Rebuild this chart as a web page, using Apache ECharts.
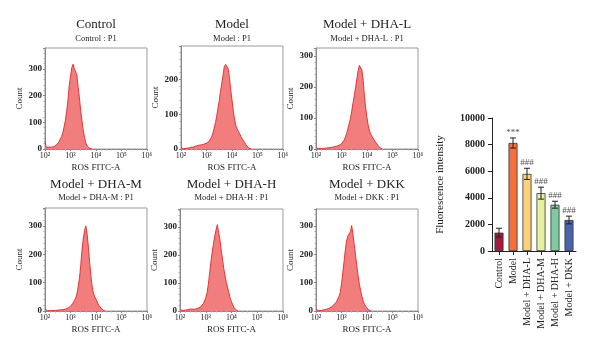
<!DOCTYPE html>
<html><head><meta charset="utf-8">
<script src="https://cdn.jsdelivr.net/npm/echarts@6/dist/echarts.min.js"></script>
<style>html,body{margin:0;padding:0;background:#fff}#c{width:600px;height:356px}</style>
</head><body><div id="c"></div>
<script>
// Histogram bins: log10(ROS FITC-A) from 10^2, step 0.05 decade
var binStart = 2.0, binStep = 0.05;
var panelTitles = ['Control', 'Model', 'Model + DHA-L', 'Model + DHA-M', 'Model + DHA-H', 'Model + DKK'];
var panelSubtitles = ['Control : P1', 'Model : P1', 'Model + DHA-L : P1', 'Model + DHA-M : P1', 'Model + DHA-H : P1', 'Model + DKK : P1'];
var xTickLabels = ['10\u00b2', '10\u00b3', '10\u2074', '10\u2075', '10\u2076'];
var yMaxes = [379, 297, 326, 363, 364, 360];

var countsControl = [30,6,5,7,8,7,10,9,12,15,20,27,38,46,62,84,108,142,183,238,272,305,318,302,300,278,232,192,143,106,70,44,23,12,6,3,1,0];
var countsModel = [4,1,1,2,2,3,3,4,5,5,6,7,9,10,11,10,12,13,14,15,17,20,22,27,35,46,60,76,95,118,140,166,190,214,238,244,248,231,206,170,141,110,86,68,58,51,44,36,30,24,18,12,7,3,1,0];
var countsDHAL = [4,1,1,1,2,2,2,3,3,3,4,4,5,6,7,8,9,10,12,14,17,22,28,38,50,65,82,98,122,148,172,198,226,252,270,276,255,221,170,132,100,76,58,48,40,34,27,20,14,9,4,2,0];
var countsDHAM = [6,1,1,1,1,2,2,2,2,3,3,3,4,4,5,6,7,8,10,13,17,22,28,36,45,60,85,115,160,214,255,282,300,272,228,172,125,85,62,50,42,32,22,15,9,5,2,0];
var countsDHAH = [5,1,2,2,3,4,5,6,7,7,6,6,7,8,10,12,15,20,26,35,48,65,95,135,175,210,240,268,290,308,280,255,218,186,152,125,102,82,65,45,33,22,12,6,2,0];
var countsDKK = [6,1,1,2,2,3,4,5,6,7,9,11,14,18,22,27,32,42,52,65,95,135,175,215,248,265,272,280,302,270,235,198,160,125,95,72,52,35,24,16,10,5,2,0];
var histCounts = [countsControl, countsModel, countsDHAL, countsDHAM, countsDHAH, countsDKK];

// Bar chart
var barCategories = ['Control', 'Model', 'Model + DHA-L', 'Model + DHA-M', 'Model + DHA-H', 'Model + DKK'];
var barValues = [1380, 8120, 5800, 4350, 3480, 2330];
var barErrors = [330, 380, 420, 450, 260, 290];
var barMarks = ['', '***', '###', '###', '###', '###'];
var barColors = ['#a51a3f', '#f4703f', '#fdd07c', '#e7efa1', '#7ecba2', '#4a63ad'];

var SERIF = '"Liberation Serif", "DejaVu Serif", serif';
var panelBoxes = [
  {left: 45, top: 48, width: 102, height: 101},
  {left: 181, top: 46, width: 102, height: 103},
  {left: 316, top: 48, width: 102, height: 101},
  {left: 45, top: 208, width: 102, height: 103},
  {left: 180, top: 209, width: 103, height: 102},
  {left: 316, top: 209, width: 102, height: 102}
];
var titleRows = [{t: 25, s: 39}, {t: 25, s: 39}, {t: 25, s: 39}, {t: 185, s: 198}, {t: 185, s: 198}, {t: 185, s: 198}];

var grids = [], xAxes = [], yAxes = [], series = [], graphics = [];
panelBoxes.forEach(function (b, i) {
  grids.push({left: b.left, top: b.top, width: b.width, height: b.height, show: true, borderColor: '#9a9a9a', borderWidth: 1, backgroundColor: '#fff'});
  xAxes.push({
    type: 'value', gridIndex: i, min: 2, max: 6, interval: 1,
    name: 'ROS FITC-A', nameLocation: 'middle', nameGap: 14,
    nameTextStyle: {fontFamily: SERIF, fontSize: 9, color: '#222'},
    axisLine: {show: true, lineStyle: {color: '#888'}},
    axisTick: {show: true, length: 2, lineStyle: {color: '#888'}},
    minorTick: {show: true, splitNumber: 5, length: 1.5, lineStyle: {color: '#aaa'}},
    splitLine: {show: false},
    axisLabel: {fontFamily: SERIF, fontSize: 8, color: '#222', margin: 3,
      formatter: function (v) { return xTickLabels[Math.round(v) - 2] || ''; }}
  });
  yAxes.push({
    type: 'value', gridIndex: i, min: 0, max: yMaxes[i], interval: 100,
    name: 'Count', nameLocation: 'middle', nameGap: 18, nameRotate: 90,
    nameTextStyle: {fontFamily: SERIF, fontSize: 9, color: '#222'},
    axisLine: {show: true, lineStyle: {color: '#888'}},
    axisTick: {show: true, length: 2, lineStyle: {color: '#888'}},
    minorTick: {show: true, splitNumber: 5, length: 1.5, lineStyle: {color: '#aaa'}},
    splitLine: {show: false},
    axisLabel: {fontFamily: SERIF, fontSize: 9, color: '#222', margin: 3, fontWeight: 'bold',
      formatter: function (v) { return v % 100 === 0 ? String(v) : ''; }}
  });
  series.push({
    type: 'line', xAxisIndex: i, yAxisIndex: i, showSymbol: false, silent: true,
    data: histCounts[i].map(function (c, k) { return [binStart + k * binStep, c]; }),
    lineStyle: {color: '#e3262b', width: 0.9},
    areaStyle: {color: '#f27d7d', opacity: 1},
    z: 3
  });
  var cx = b.left + b.width / 2;
  graphics.push({type: 'text', x: cx, y: titleRows[i].t, style: {text: panelTitles[i], font: '13px ' + SERIF, fill: '#222', align: 'center', verticalAlign: 'middle'}});
  graphics.push({type: 'text', x: cx, y: titleRows[i].s, style: {text: panelSubtitles[i], font: '8.5px ' + SERIF, fill: '#222', align: 'center', verticalAlign: 'middle'}});
});

// Bar chart grid (index 6)
grids.push({left: 492, top: 118, width: 84, height: 133});
xAxes.push({
  type: 'category', gridIndex: 6, data: barCategories,
  axisLine: {show: true, lineStyle: {color: '#222', width: 1}},
  axisTick: {show: true, alignWithLabel: true, length: 4, lineStyle: {color: '#222'}},
  axisLabel: {rotate: 90, fontFamily: SERIF, fontSize: 10, color: '#222', margin: 7, interval: 0}
});
yAxes.push({
  type: 'value', gridIndex: 6, min: 0, max: 10000, interval: 2000,
  name: 'Fluorescence intensity', nameLocation: 'middle', nameGap: 46, nameRotate: 90,
  nameTextStyle: {fontFamily: SERIF, fontSize: 11, color: '#222'},
  axisLine: {show: true, lineStyle: {color: '#222', width: 1}},
  axisTick: {show: true, length: 4, lineStyle: {color: '#222'}},
  splitLine: {show: false},
  axisLabel: {fontFamily: SERIF, fontSize: 10, color: '#222', margin: 7, fontWeight: 'bold',
    formatter: function (v) { return String(v); }}
});
series.push({
  type: 'bar', xAxisIndex: 6, yAxisIndex: 6, barWidth: 9,
  data: barValues.map(function (v, k) { return {value: v, itemStyle: {color: barColors[k]}}; }),
  itemStyle: {borderColor: '#333', borderWidth: 0.8},
  z: 2
});
series.push({
  type: 'custom', xAxisIndex: 6, yAxisIndex: 6, z: 4,
  data: barValues.map(function (v, k) { return [k, v - barErrors[k], v + barErrors[k]]; }),
  renderItem: function (params, api) {
    var lo = api.coord([api.value(0), api.value(1)]);
    var hi = api.coord([api.value(0), api.value(2)]);
    var w = 3;
    var st = {stroke: '#222', lineWidth: 1};
    return {type: 'group', children: [
      {type: 'line', shape: {x1: hi[0], y1: hi[1], x2: lo[0], y2: lo[1]}, style: st},
      {type: 'line', shape: {x1: hi[0] - w, y1: hi[1], x2: hi[0] + w, y2: hi[1]}, style: st},
      {type: 'line', shape: {x1: lo[0] - w, y1: lo[1], x2: lo[0] + w, y2: lo[1]}, style: st}
    ]};
  }
});
series.push({
  type: 'scatter', xAxisIndex: 6, yAxisIndex: 6, symbolSize: 0, silent: true,
  data: barValues.map(function (v, k) { return [k, v + barErrors[k]]; }),
  label: {show: true, position: 'top', distance: 1, fontFamily: SERIF, fontSize: 9, color: '#222',
    formatter: function (p) { return barMarks[p.dataIndex]; }},
  z: 5
});

var chart = echarts.init(document.getElementById('c'), null, {renderer: 'canvas'});
chart.setOption({
  animation: false,
  backgroundColor: '#fff',
  grid: grids, xAxis: xAxes, yAxis: yAxes, series: series,
  graphic: graphics
});
</script></body></html>
